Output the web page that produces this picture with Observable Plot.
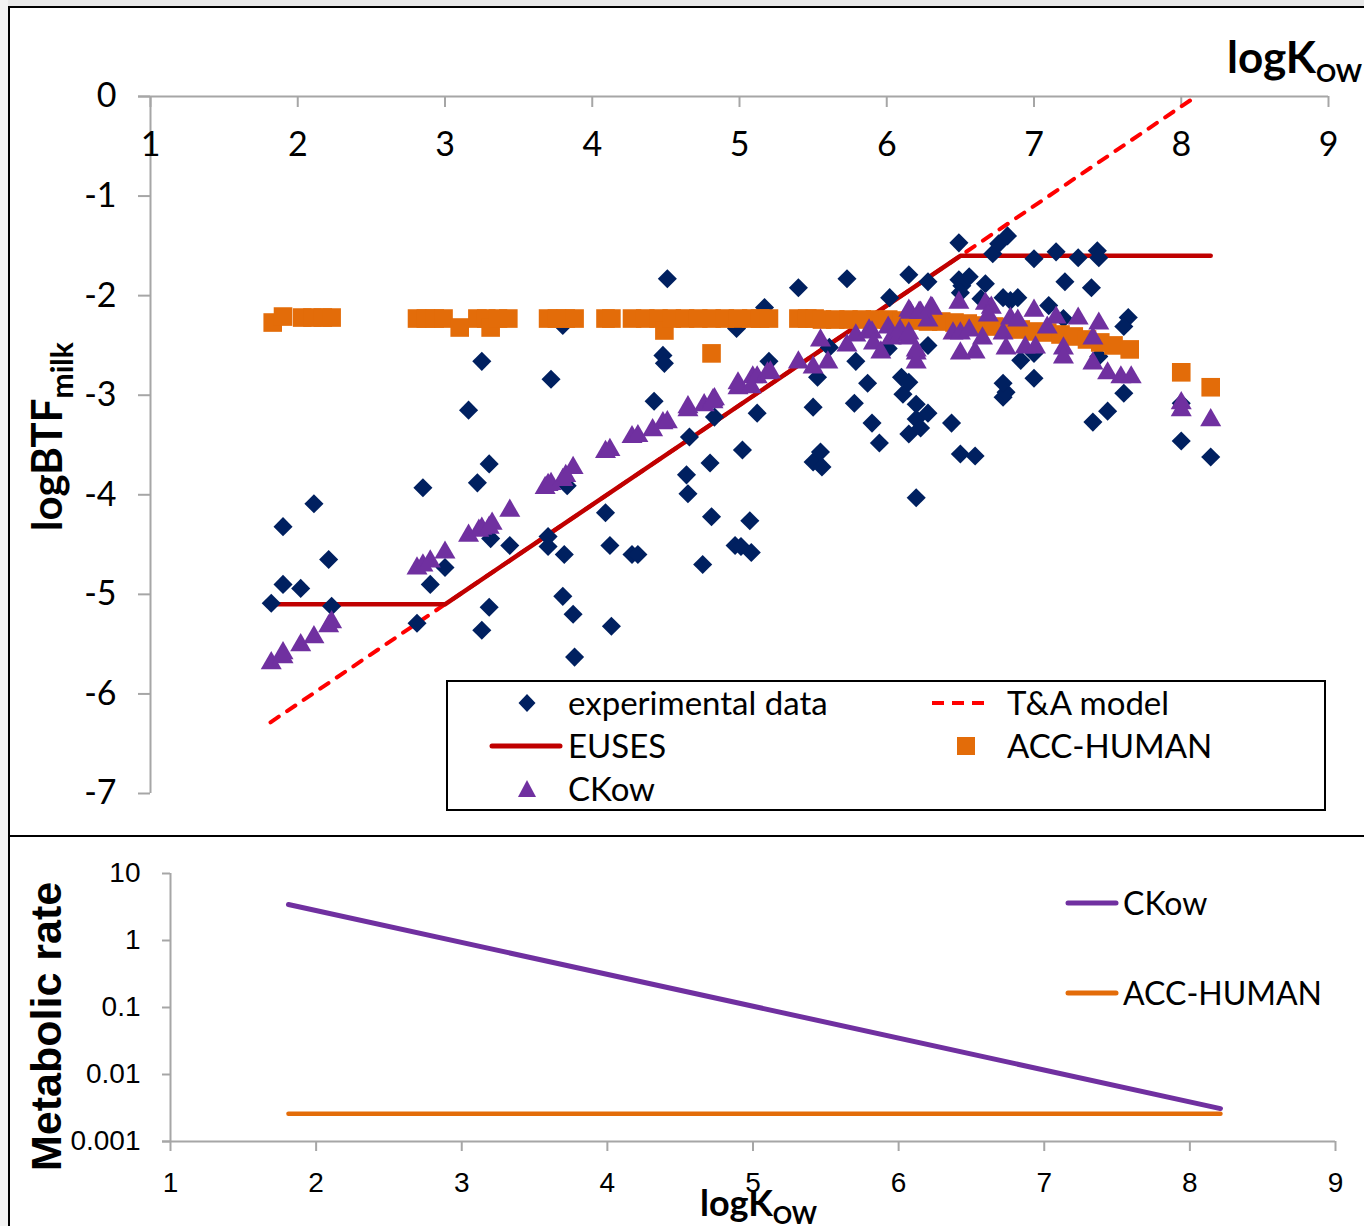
<!DOCTYPE html>
<html>
<head>
<meta charset="utf-8">
<script src="https://cdn.jsdelivr.net/npm/d3@7"></script>
<script src="https://cdn.jsdelivr.net/npm/@observablehq/plot@0.6"></script>
<style>
html, body { margin: 0; padding: 0; background: #fff; }
#wrap { position: relative; width: 1364px; height: 1226px; overflow: hidden; background: #fff; }
</style>
</head>
<body>
<div id="wrap"></div>
<script>
// ---------------- DATA ----------------
const xTicks = [1, 2, 3, 4, 5, 6, 7, 8, 9];
const xDomain = [1, 9];
const yTicksTop = [0, -1, -2, -3, -4, -5, -6, -7];
const yDomainTop = [-7, 0];
const rateTicks = [0.001, 0.01, 0.1, 1, 10];
const rateDomain = [0.001, 10];

// experimental data: [logKow, logBTFmilk]
const experimental = [
  [1.82,-5.09],[1.90,-4.32],[1.90,-4.90],[2.02,-4.94],[2.11,-4.09],[2.21,-4.65],[2.23,-5.12],
  [2.81,-5.29],[2.85,-3.93],[2.90,-4.90],[3.00,-4.73],[3.16,-3.15],[3.22,-3.88],[3.25,-2.66],[3.25,-5.36],
  [3.30,-3.69],[3.30,-5.13],[3.31,-4.44],[3.44,-4.51],
  [3.70,-4.42],[3.70,-4.52],[3.72,-2.84],[3.80,-5.02],[3.81,-4.60],[3.87,-5.20],[3.88,-5.63],[3.83,-3.91],[3.80,-2.30],
  [4.09,-4.18],[4.12,-4.51],[4.13,-5.32],[4.27,-4.60],[4.31,-4.60],[4.42,-3.06],[4.48,-2.60],[4.49,-2.68],[4.51,-1.83],
  [4.66,-3.42],[4.64,-3.80],[4.65,-3.99],[4.75,-4.70],[4.80,-3.68],[4.81,-4.22],[4.83,-3.22],[4.97,-4.51],[4.98,-2.33],
  [5.02,-3.55],[5.01,-4.52],[5.07,-4.26],[5.08,-4.58],[5.12,-3.18],[5.17,-2.12],[5.20,-2.66],
  [5.40,-1.92],[5.50,-3.12],[5.61,-2.52],[5.53,-2.82],[5.50,-3.67],[5.55,-3.57],[5.56,-3.72],
  [5.73,-1.83],[5.78,-3.08],[5.79,-2.66],[5.87,-2.88],[5.90,-3.28],[5.95,-3.48],
  [6.02,-2.02],[6.01,-2.53],[6.10,-2.82],[6.11,-2.99],[6.15,-1.79],[6.15,-2.87],[6.15,-3.39],[6.20,-3.09],
  [6.20,-4.03],[6.20,-3.24],[6.23,-3.33],[6.28,-3.18],[6.28,-1.86],[6.28,-2.50],
  [6.44,-3.28],[6.49,-1.47],[6.50,-3.59],[6.49,-1.84],[6.51,-1.90],[6.50,-1.97],[6.56,-1.81],[6.60,-3.61],
  [6.64,-2.03],[6.67,-1.88],[6.72,-1.58],[6.76,-1.48],[6.82,-1.40],[6.79,-3.02],[6.81,-2.97],[6.79,-2.88],
  [6.79,-2.02],[6.84,-2.05],[6.89,-2.02],[6.91,-2.65],
  [7.00,-2.83],[7.00,-2.58],[7.00,-1.63],[7.10,-2.10],[7.15,-1.56],[7.21,-1.86],[7.20,-2.23],[7.30,-1.62],
  [7.39,-1.92],[7.40,-3.27],[7.43,-1.55],[7.44,-1.62],[7.44,-2.61],[7.50,-3.16],[7.64,-2.22],[7.61,-2.31],[7.61,-2.98],
  [8.00,-3.08],[8.00,-3.46],[8.20,-3.62]
];

// CKow model predictions
const ckow = [
  [1.82,-5.69],[1.90,-5.63],[1.90,-5.59],[2.02,-5.51],[2.11,-5.43],[2.21,-5.32],[2.23,-5.28],
  [2.81,-4.74],[2.85,-4.71],[2.90,-4.67],[3.00,-4.58],
  [3.16,-4.41],[3.23,-4.36],[3.25,-4.34],[3.30,-4.33],[3.32,-4.29],[3.44,-4.16],
  [3.68,-3.93],[3.70,-3.90],[3.72,-3.89],[3.80,-3.85],[3.82,-3.81],[3.87,-3.73],
  [4.09,-3.57],[4.12,-3.55],[4.27,-3.42],[4.31,-3.41],[4.41,-3.35],[4.48,-3.28],[4.51,-3.27],
  [4.65,-3.15],[4.65,-3.12],[4.76,-3.10],[4.82,-3.07],[4.82,-3.05],[4.83,-3.04],
  [4.99,-2.88],[4.99,-2.93],[5.08,-2.92],[5.09,-2.82],[5.12,-2.82],[5.19,-2.78],[5.21,-2.77],
  [5.40,-2.67],[5.50,-2.72],[5.55,-2.45],[5.60,-2.67],
  [5.73,-2.50],[5.79,-2.40],[5.88,-2.35],[5.90,-2.37],[5.91,-2.48],[5.96,-2.57],[6.01,-2.32],[6.03,-2.43],
  [6.09,-2.40],[6.15,-2.43],[6.16,-2.17],[6.20,-2.58],[6.20,-2.67],[6.23,-2.17],[6.31,-2.13],[6.28,-2.25],
  [6.15,-2.15],[6.22,-2.17],[6.30,-2.12],[6.09,-2.35],[6.15,-2.38],[6.20,-2.55],
  [6.49,-2.07],[6.45,-2.38],[6.50,-2.38],[6.50,-2.58],[6.56,-2.35],[6.60,-2.57],[6.65,-2.43],[6.67,-2.08],
  [6.71,-2.12],[6.69,-2.20],[6.79,-2.38],[6.81,-2.53],[6.84,-2.23],[6.89,-2.25],[6.94,-2.52],[7.00,-2.15],
  [7.01,-2.52],[7.15,-2.22],[7.09,-2.32],[7.20,-2.53],[7.20,-2.62],[7.30,-2.23],[7.40,-2.43],[7.44,-2.28],
  [7.40,-2.68],[7.50,-2.78],[7.59,-2.82],[7.66,-2.82],
  [8.00,-3.08],[8.00,-3.15],[8.20,-3.25]
];

// ACC-HUMAN model predictions
const accHuman = [
  [1.83,-2.27],[1.90,-2.21],[2.03,-2.22],[2.10,-2.22],[2.17,-2.22],[2.23,-2.22],
  [2.81,-2.23],[2.87,-2.23],[2.93,-2.23],[2.99,-2.23],
  [3.10,-2.32],[3.22,-2.23],[3.28,-2.23],[3.31,-2.32],[3.36,-2.23],[3.43,-2.23],
  [3.70,-2.23],[3.76,-2.23],[3.82,-2.23],[3.88,-2.23],
  [4.09,-2.23],[4.13,-2.23],
  [4.27,-2.23],[4.36,-2.23],[4.45,-2.23],[4.49,-2.35],[4.54,-2.23],[4.63,-2.23],[4.72,-2.23],[4.81,-2.58],
  [4.81,-2.23],[4.90,-2.23],[4.99,-2.23],[5.08,-2.23],[5.14,-2.23],[5.20,-2.23],
  [5.40,-2.23],[5.46,-2.23],[5.51,-2.23],
  [5.56,-2.24],[5.65,-2.24],[5.74,-2.24],[5.83,-2.24],[5.92,-2.24],[6.01,-2.24],[6.10,-2.25],[6.19,-2.25],
  [6.28,-2.26],[6.37,-2.26],[6.46,-2.27],[6.55,-2.28],[6.64,-2.30],[6.73,-2.31],[6.82,-2.32],[6.91,-2.34],
  [7.00,-2.36],[7.09,-2.37],[7.18,-2.39],[7.27,-2.41],[7.36,-2.44],[7.45,-2.47],[7.54,-2.50],[7.65,-2.54],
  [8.00,-2.77],[8.20,-2.92]
];

// T&A model and EUSES lines
const taModel = [[1.815,-6.285],[8.1,0]];
const euses = [[1.815,-5.1],[3.0,-5.1],[6.5,-1.6],[8.2,-1.6]];

// Metabolic rate (lower panel)
const ckowRate = [[1.81,3.44],[8.21,0.0031]];
const accRate = [[1.81,0.0026],[8.21,0.0026]];

// ---------------- STYLE ----------------
const axisGray = "#a6a6a6";
const navy = "#002060", orange = "#e36c09", purple = "#7030a0", darkRed = "#c00000", red = "#ff0000";
const sansC = "Lato, 'Open Sans', sans-serif";
const sansA = "'Liberation Sans', Arial, sans-serif";

const wrap = document.getElementById("wrap");

// ---------------- TOP PANEL ----------------
const topChart = Plot.plot({
  width: 1364, height: 836,
  marginTop: 96, marginRight: 36, marginBottom: 43, marginLeft: 150,
  x: {domain: xDomain},
  y: {domain: yDomainTop},
  style: {background: "transparent", overflow: "visible", fontFamily: sansC},
  marks: [
    Plot.ruleX([xDomain[0]], {stroke: axisGray, strokeWidth: 2}),
    Plot.ruleY([0], {stroke: axisGray, strokeWidth: 2, insetLeft: -12}),
    Plot.axisY({ticks: yTicksTop, anchor: "left", tickSize: 12, tickPadding: 22, stroke: axisGray, strokeWidth: 2,
      fill: "#000", fontSize: 34, fontFamily: sansC, tickFormat: d => String(d), label: null}),
    Plot.axisX({ticks: xTicks, anchor: "bottom", frameAnchor: "top", tickSize: 11, tickPadding: 24, stroke: axisGray, strokeWidth: 2,
      fill: "#000", fontSize: 34, fontFamily: sansC, tickFormat: d => String(d), label: null}),
    Plot.line(taModel, {x: d => d[0], y: d => d[1], stroke: red, strokeWidth: 4, strokeDasharray: "10,10", strokeLinecap: "round"}),
    Plot.line(euses, {x: d => d[0], y: d => d[1], stroke: darkRed, strokeWidth: 4.5, strokeLinecap: "round", strokeLinejoin: "round"}),
    Plot.dot(experimental, {x: d => d[0], y: d => d[1], symbol: "diamond2", r: 8.6, fill: navy, stroke: null}),
    Plot.dot(accHuman, {x: d => d[0], y: d => d[1], symbol: "square", r: 10.5, fill: orange, stroke: null}),
    Plot.dot(ckow, {x: d => d[0], y: d => d[1], symbol: "triangle", r: 7.8, fill: purple, stroke: null})
  ]
});
topChart.style.position = "absolute";
topChart.style.left = "0px";
topChart.style.top = "0px";
wrap.appendChild(topChart);

// ---------------- BOTTOM PANEL ----------------
const botChart = Plot.plot({
  width: 1364, height: 390,
  marginTop: 37, marginRight: 29, marginBottom: 85, marginLeft: 170,
  x: {domain: xDomain},
  y: {type: "log", domain: rateDomain},
  style: {background: "transparent", overflow: "visible", fontFamily: sansA},
  marks: [
    Plot.ruleX([xDomain[0]], {stroke: axisGray, strokeWidth: 2}),
    Plot.ruleY([rateDomain[0]], {stroke: axisGray, strokeWidth: 2, insetLeft: -8}),
    Plot.axisY({ticks: rateTicks, anchor: "left", tickSize: 8, tickPadding: 22, stroke: axisGray, strokeWidth: 2,
      fill: "#000", fontSize: 28, fontFamily: sansA, tickFormat: d => String(d), label: null}),
    Plot.axisX({ticks: xTicks, anchor: "bottom", tickSize: 10, tickPadding: 21, stroke: axisGray, strokeWidth: 2,
      fill: "#000", fontSize: 28, fontFamily: sansA, tickFormat: d => String(d), label: null}),
    Plot.line(accRate, {x: d => d[0], y: d => d[1], stroke: orange, strokeWidth: 4.5}),
    Plot.line(ckowRate, {x: d => d[0], y: d => d[1], stroke: purple, strokeWidth: 5, strokeLinecap: "round"})
  ]
});
botChart.style.position = "absolute";
botChart.style.left = "0px";
botChart.style.top = "836px";
wrap.appendChild(botChart);

// ---------------- OVERLAY: frame, titles, legends ----------------
const ov = d3.select(wrap).append("svg")
  .attr("width", 1364).attr("height", 1226)
  .style("position", "absolute").style("left", "0px").style("top", "0px")
  .style("pointer-events", "none");

ov.append("rect").attr("x", 0).attr("y", 0).attr("width", 1364).attr("height", 6).attr("fill", "#e8e8e8");
ov.append("rect").attr("x", 0).attr("y", 0).attr("width", 8).attr("height", 1226).attr("fill", "#f3f3f3");
ov.append("rect").attr("x", 8).attr("y", 6).attr("width", 1356).attr("height", 2).attr("fill", "#000");
ov.append("rect").attr("x", 8).attr("y", 6).attr("width", 2).attr("height", 1220).attr("fill", "#000");
ov.append("rect").attr("x", 8).attr("y", 835).attr("width", 1356).attr("height", 2).attr("fill", "#000");

// top x title
const tx = ov.append("text").attr("x", 1227).attr("y", 73)
  .attr("font-family", sansC).attr("font-weight", 700).attr("font-size", 44).attr("fill", "#000");
tx.append("tspan").text("logK");
tx.append("tspan").attr("font-size", 25).attr("dy", 9).text("OW");

// top y title
const ty = ov.append("text").attr("transform", "translate(62,531) rotate(-90)")
  .attr("font-family", sansC).attr("font-weight", 700).attr("font-size", 42).attr("fill", "#000");
ty.append("tspan").text("logBTF");
ty.append("tspan").attr("font-size", 30).attr("dy", 11).text("milk");

// top legend
ov.append("rect").attr("x", 447).attr("y", 681).attr("width", 878).attr("height", 129)
  .attr("fill", "#fff").attr("stroke", "#000").attr("stroke-width", 2);
ov.append("path").attr("d", "M527,694L535.5,703L527,712L518.5,703Z").attr("fill", navy);
ov.append("line").attr("x1", 932).attr("x2", 988).attr("y1", 703).attr("y2", 703)
  .attr("stroke", red).attr("stroke-width", 4).attr("stroke-dasharray", "12,8");
ov.append("line").attr("x1", 492).attr("x2", 560).attr("y1", 746).attr("y2", 746)
  .attr("stroke", darkRed).attr("stroke-width", 5).attr("stroke-linecap", "round");
ov.append("rect").attr("x", 957).attr("y", 737).attr("width", 18).attr("height", 18).attr("fill", orange);
ov.append("path").attr("d", "M527,780L536,797L518,797Z").attr("fill", purple);
const legTop = [["experimental data", 568, 715], ["T&A model", 1007, 715], ["EUSES", 568, 758], ["ACC-HUMAN", 1007, 758], ["CKow", 568, 801]];
legTop.forEach(([t, x, y]) => ov.append("text").attr("x", x).attr("y", y)
  .attr("font-family", sansC).attr("font-size", 33).attr("fill", "#000").text(t));

// bottom titles
ov.append("text").attr("transform", "translate(61,1171) rotate(-90)")
  .attr("font-family", sansA).attr("font-weight", 700).attr("font-size", 43).attr("fill", "#000")
  .text("Metabolic rate");
const bx = ov.append("text").attr("x", 700).attr("y", 1216)
  .attr("font-family", sansC).attr("font-weight", 700).attr("font-size", 36).attr("fill", "#000");
bx.append("tspan").text("logK");
bx.append("tspan").attr("font-size", 24).attr("dy", 8).text("OW");

// bottom legend
ov.append("line").attr("x1", 1068).attr("x2", 1116).attr("y1", 903).attr("y2", 903)
  .attr("stroke", purple).attr("stroke-width", 5).attr("stroke-linecap", "round");
ov.append("line").attr("x1", 1068).attr("x2", 1116).attr("y1", 993).attr("y2", 993)
  .attr("stroke", orange).attr("stroke-width", 5).attr("stroke-linecap", "round");
ov.append("text").attr("x", 1123).attr("y", 915).attr("font-family", sansC).attr("font-size", 32).attr("fill", "#000").text("CKow");
ov.append("text").attr("x", 1123).attr("y", 1005).attr("font-family", sansC).attr("font-size", 32).attr("fill", "#000").text("ACC-HUMAN");
</script>
</body>
</html>
